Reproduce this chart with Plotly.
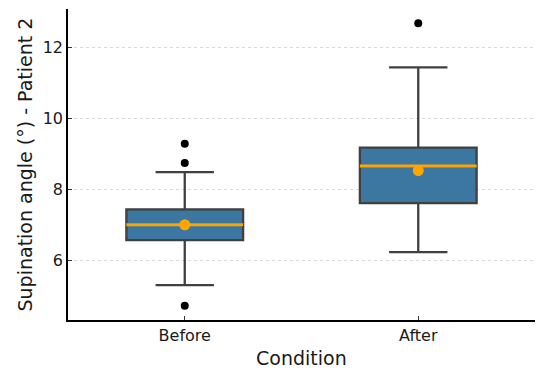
import plotly.graph_objects as go

categories = ["Before", "After"]
q1 = [6.58, 7.62]
median = [7.01, 8.66]
q3 = [7.44, 9.18]
lower_whisker = [5.31, 6.24]
upper_whisker = [8.49, 11.44]
means = [7.01, 8.53]
outlier_x = ["Before", "Before", "Before", "After"]
outlier_y = [9.29, 8.75, 4.73, 12.68]

y_ticks = [6, 8, 10, 12]

x_title = "Condition"
y_title = "Supination angle (°) - Patient 2"

FONT = "DejaVu Sans"
TXT = "#1a1a1a"

fig = go.Figure()

fig.add_trace(go.Box(
    x=categories, q1=q1, median=median, q3=q3,
    lowerfence=lower_whisker, upperfence=upper_whisker,
    fillcolor="rgb(59,119,160)",
    line=dict(color="#404040", width=2.3),
    whiskerwidth=0.5, width=0.5, boxpoints=False,
    showlegend=False, hoverinfo="skip",
))

# orange median overlay
fig.add_trace(go.Box(
    x=categories, q1=median, median=median, q3=median,
    lowerfence=median, upperfence=median,
    fillcolor="rgba(0,0,0,0)",
    line=dict(color="#FFA500", width=3),
    whiskerwidth=0, width=0.5, boxpoints=False,
    showlegend=False, hoverinfo="skip",
))

fig.add_trace(go.Scatter(
    x=categories, y=means, mode="markers",
    marker=dict(color="#FFA500", size=11, line=dict(width=0)),
    showlegend=False, hoverinfo="skip",
))

fig.add_trace(go.Scatter(
    x=outlier_x, y=outlier_y, mode="markers",
    marker=dict(color="black", size=8, line=dict(width=0)),
    showlegend=False, hoverinfo="skip",
))

# page body has an 8px margin, so the figure is sized/offset to compensate
fig.update_layout(
    width=542, height=366,
    margin=dict(l=60, r=15, t=1, b=54),
    paper_bgcolor="white", plot_bgcolor="white",
    font=dict(family=FONT, color=TXT, size=16),
    boxmode="overlay",
    annotations=[
        dict(text=x_title, xref="paper", yref="paper", x=0.5, y=0,
             xanchor="center", yanchor="middle", yshift=-37.5, showarrow=False,
             font=dict(size=19, family=FONT, color=TXT)),
        dict(text=y_title, xref="paper", yref="paper", x=0, y=0.5,
             xanchor="center", yanchor="middle", xshift=-44, textangle=-90, showarrow=False,
             font=dict(size=19, family=FONT, color=TXT)),
    ],
)

fig.update_xaxes(
    type="category", categoryorder="array", categoryarray=categories,
    range=[-0.5, 1.5], automargin=False,
    showline=True, linecolor="black", linewidth=1.6, mirror=False,
    ticks="inside", ticklen=4, tickwidth=1.2, tickcolor="#333333",
    tickfont=dict(size=16, family=FONT, color=TXT),
    showgrid=False, zeroline=False,
)

fig.update_yaxes(
    range=[4.33, 13.08], automargin=False,
    tickvals=y_ticks, ticktext=[str(v) for v in y_ticks],
    showline=True, linecolor="black", linewidth=1.6, mirror=False,
    ticks="inside", ticklen=4, tickwidth=1.2, tickcolor="#333333",
    tickfont=dict(size=16, family=FONT, color=TXT),
    showgrid=True, gridcolor="#d9d9d9", gridwidth=1, griddash="dot",
    zeroline=False,
)

fig.write_html("out.html")
